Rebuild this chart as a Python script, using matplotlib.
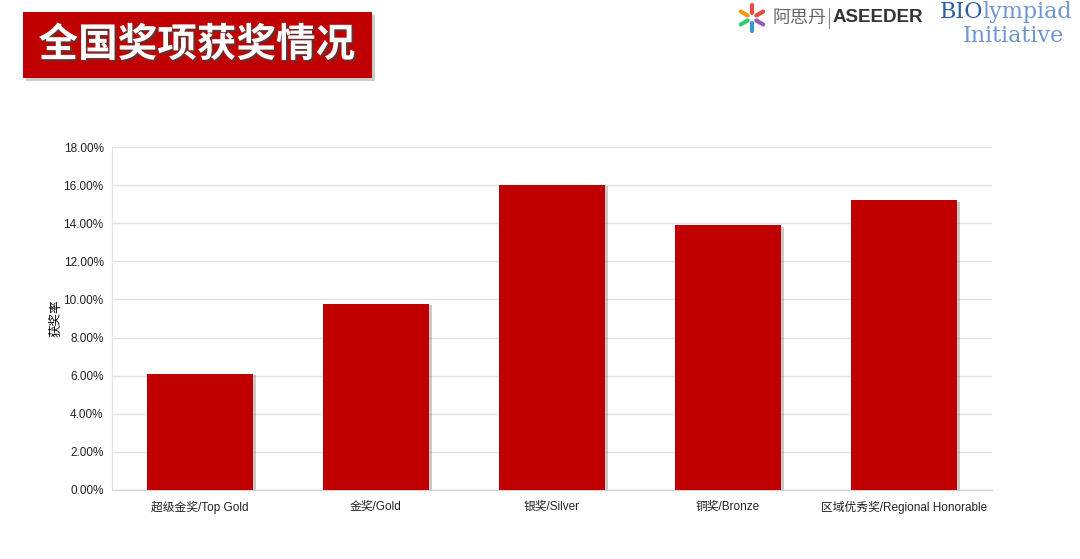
import matplotlib
matplotlib.use('Agg')
import math
import matplotlib.pyplot as plt
import matplotlib.patheffects as pe
from matplotlib.patches import Rectangle
from matplotlib.ticker import FuncFormatter, MultipleLocator

plt.rcParams['font.family'] = ['Liberation Sans', 'Noto Sans CJK SC', 'DejaVu Sans']

# 数据
categories = ['超级金奖/Top Gold', '金奖/Gold', '银奖/Silver', '铜奖/Bronze', '区域优秀奖/Regional Honorable']
rates = [6.1, 9.77, 16.0, 13.9, 15.2]

RED = '#c00000'

fig = plt.figure(figsize=(10.8, 5.59), dpi=100)
W, H = 1080, 559

# 标题红框
title_ax = fig.add_axes([0, 0, 1, 1])
title_ax.set_xlim(0, W)
title_ax.set_ylim(H, 0)
title_ax.axis('off')
box = Rectangle((23, 12), 349, 66, facecolor=RED, edgecolor='none',
                path_effects=[pe.SimplePatchShadow(offset=(2, -2), shadow_rgbFace='#aaaaaa', alpha=0.6), pe.Normal()])
title_ax.add_patch(box)
title_ax.text(197, 45, '全国奖项获奖情况', color='white', fontsize=28.5, fontweight='bold',
              ha='center', va='center', family=['Noto Sans CJK SC'],
              path_effects=[pe.withSimplePatchShadow(offset=(1.5, -1.5), shadow_rgbFace='#444444', alpha=0.7)])

# logo
colors_star = ['#e84c3d', '#f39c12', '#2ecc71', '#3498db', '#9b59b6', '#e74c3c']
for i, c in enumerate(colors_star):
    a = math.radians(90 + i * 60)
    title_ax.plot([752 + 5 * math.cos(a), 752 + 13 * math.cos(a)],
                  [18 - 5 * math.sin(a), 18 - 13 * math.sin(a)], color=c, lw=3, solid_capstyle='round')
title_ax.text(773, 18, '阿思丹', color='#666666', fontsize=13, va='center', ha='left')
title_ax.plot([829, 829], [8, 28], color='#888888', lw=0.8)
title_ax.text(833, 18, 'ASEEDER', color='#333333', fontsize=13.5, fontweight='bold', va='center', ha='left')
title_ax.text(940, 12, 'BIO', color='#2e5fa3', fontsize=16, va='center', ha='left', family='DejaVu Serif')
title_ax.text(982, 12, 'lympiad', color='#6e97d0', fontsize=16, va='center', ha='left', family='DejaVu Serif')
title_ax.text(963, 36, 'Initiative', color='#6e97d0', fontsize=16, va='center', ha='left', family='DejaVu Serif')

# 柱状图
ax = fig.add_axes([112 / W, 1 - 490 / H, 880 / W, (490 - 147) / H])
x = list(range(len(categories)))
bars = ax.bar(x, rates, width=0.6, color=RED, zorder=3)
for b in bars:
    b.set_path_effects([pe.SimplePatchShadow(offset=(2, -1), shadow_rgbFace='#999999', alpha=0.5), pe.Normal()])

ax.set_xlim(-0.5, len(categories) - 0.5)
ax.set_ylim(0, 18)
ax.yaxis.set_major_locator(MultipleLocator(2))
ax.yaxis.set_major_formatter(FuncFormatter(lambda v, p: f'{v:.2f}%'))
ax.set_xticks(x)
ax.set_xticklabels(categories)
ax.tick_params(axis='both', length=0, labelsize=8.5, colors='#222222')
ax.tick_params(axis='x', pad=8)
ax.tick_params(axis='y', pad=6)
ax.grid(axis='y', color='#e3e3e3', lw=1, zorder=0)
for s in ['top', 'right']:
    ax.spines[s].set_visible(False)
ax.spines['left'].set_color('#e3e3e3')
ax.spines['bottom'].set_color('#d0d0d0')
ax.set_ylabel('获奖率', fontsize=9, labelpad=1)

fig.savefig('out.png', dpi=100)
